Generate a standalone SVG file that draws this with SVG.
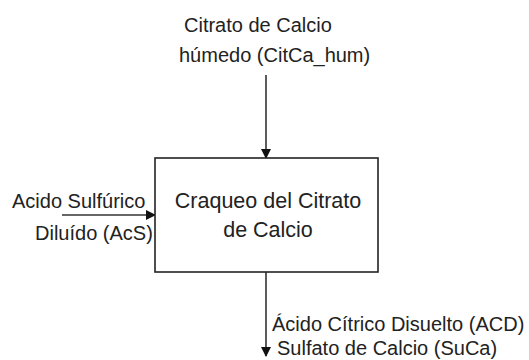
<svg xmlns="http://www.w3.org/2000/svg" width="529" height="360" viewBox="0 0 529 360">
<style>
text{font-family:"Liberation Sans",Arial,sans-serif;fill:#222}
.lbl{font-size:20px}
.box{font-size:21.5px}
.con{stroke:#333;stroke-width:1.6;fill:none}
</style>
<defs>
<marker id="ah" markerWidth="10" markerHeight="10" refX="9" refY="5" orient="auto" markerUnits="userSpaceOnUse">
<path d="M0,0 L10,5 L0,10 Z" fill="#111"/>
</marker>
</defs>
<rect width="529" height="360" fill="#fff"/>
<g id="connectors">
<line class="con" x1="266" y1="75" x2="266" y2="158" marker-end="url(#ah)"/>
<line class="con" x1="62" y1="215" x2="155" y2="215" marker-end="url(#ah)"/>
<line class="con" x1="266" y1="272" x2="266" y2="356" marker-end="url(#ah)"/>
</g>
<g id="craqueo">
<rect x="155" y="158" width="223" height="114" fill="#fff" stroke="#222" stroke-width="1.6"/>
<text class="box" x="268" y="208" text-anchor="middle">Craqueo del Citrato</text>
<text class="box" x="268" y="237" text-anchor="middle">de Calcio</text>
</g>
<g id="citca">
<text class="lbl" x="184" y="32">Citrato de Calcio</text>
<text class="lbl" x="179" y="62">húmedo (CitCa_hum)</text>
</g>
<g id="acs">
<text class="lbl" x="12" y="208">Acido Sulfúrico</text>
<text class="lbl" x="35" y="240">Diluído (AcS)</text>
</g>
<g id="salidas">
<text class="lbl" x="272" y="331">Ácido Cítrico Disuelto (ACD)</text>
<text class="lbl" x="277" y="355">Sulfato de Calcio (SuCa)</text>
</g>
</svg>
